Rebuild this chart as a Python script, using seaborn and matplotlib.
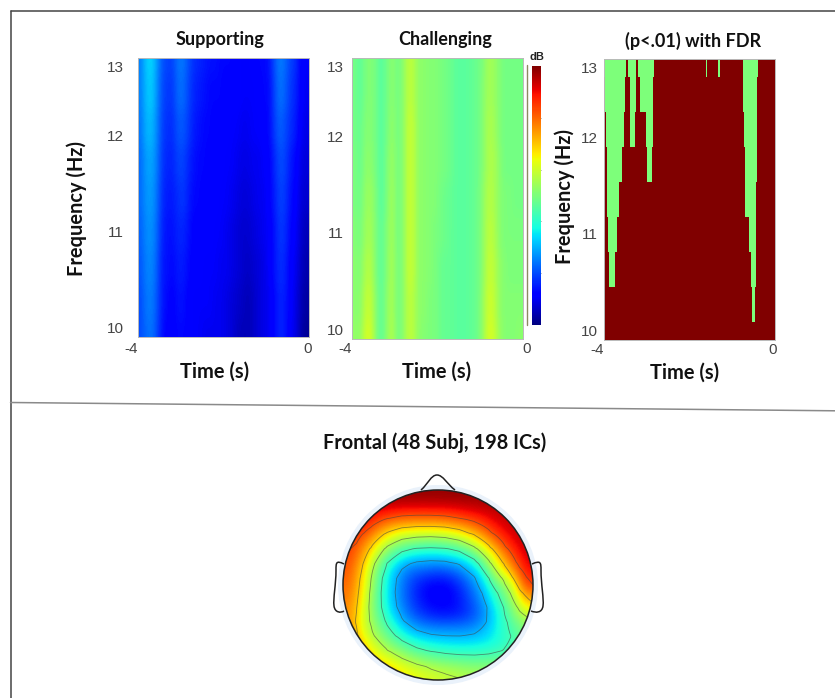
import numpy as np
import pandas as pd
import matplotlib
matplotlib.use("Agg")
import matplotlib.pyplot as plt
import matplotlib.transforms as mtrans
from matplotlib.patches import Circle, PathPatch
from matplotlib.path import Path
from matplotlib.lines import Line2D
import seaborn as sns

W, H = 835, 698
TITLES = ["Supporting", "Challenging", "(p<.01) with FDR"]
BOTTOM_TITLE = "Frontal (48 Subj, 198 ICs)"
FREQ_TICKS = ["13", "12", "11", "10"]
FREQ_TICK_ROWS = [0.57, 4.53, 10.03, 15.53]

# jet-normalised power, rows top (13 Hz) to bottom (10 Hz), columns -4 s to 0 s
SUPPORTING = [
 [.25,.32,.34,.28,.21,.19,.19,.24,.24,.20,.17,.16,.15,.14,.14,.13,.13,.13,.12,.11,.11,.12,.13,.13,.14,.20,.25,.23,.19,.17,.12,.11],
 [.25,.31,.33,.27,.20,.18,.18,.23,.23,.19,.16,.15,.14,.13,.13,.13,.12,.12,.12,.11,.11,.11,.12,.13,.13,.19,.24,.22,.18,.16,.12,.10],
 [.24,.30,.31,.26,.19,.17,.17,.21,.21,.18,.15,.14,.13,.13,.12,.12,.12,.11,.11,.10,.10,.11,.11,.12,.13,.18,.22,.20,.17,.15,.11,.09],
 [.23,.28,.29,.25,.18,.16,.16,.19,.19,.16,.14,.13,.13,.12,.12,.12,.11,.11,.10,.09,.09,.10,.10,.11,.12,.16,.20,.19,.15,.13,.09,.08],
 [.23,.27,.28,.24,.17,.15,.15,.17,.18,.15,.13,.13,.12,.12,.12,.11,.11,.10,.09,.08,.08,.09,.10,.10,.12,.15,.19,.18,.14,.12,.08,.07],
 [.22,.26,.27,.23,.16,.14,.14,.16,.16,.14,.12,.12,.12,.12,.11,.11,.10,.09,.08,.07,.07,.08,.09,.10,.11,.14,.18,.17,.13,.11,.07,.05],
 [.21,.25,.26,.22,.15,.14,.13,.15,.15,.13,.12,.12,.11,.11,.11,.10,.10,.09,.08,.07,.06,.07,.08,.09,.11,.14,.17,.16,.12,.10,.06,.04],
 [.20,.24,.25,.21,.15,.13,.12,.14,.14,.12,.11,.11,.11,.11,.10,.10,.09,.08,.07,.06,.05,.06,.08,.09,.10,.13,.16,.15,.12,.09,.05,.03],
 [.20,.23,.24,.20,.14,.12,.12,.13,.13,.12,.11,.11,.10,.10,.10,.10,.09,.08,.06,.05,.05,.06,.08,.09,.10,.13,.16,.15,.11,.09,.04,.02],
]
CHALLENGING = [
 [.49,.46,.50,.51,.49,.45,.49,.52,.49,.51,.58,.57,.52,.52,.51,.51,.50,.49,.48,.46,.46,.46,.47,.48,.50,.55,.54,.51,.49,.49,.49,.49],
 [.49,.46,.50,.51,.49,.45,.49,.52,.49,.51,.58,.57,.52,.52,.51,.51,.50,.49,.48,.46,.46,.46,.47,.48,.51,.55,.54,.51,.49,.49,.49,.49],
 [.49,.47,.51,.51,.49,.45,.49,.53,.49,.51,.59,.58,.52,.52,.51,.51,.50,.49,.48,.46,.46,.46,.47,.48,.51,.56,.55,.51,.49,.49,.49,.49],
 [.50,.47,.52,.52,.49,.45,.50,.54,.49,.51,.59,.58,.52,.52,.51,.51,.50,.49,.48,.46,.46,.46,.47,.48,.51,.56,.56,.52,.49,.49,.49,.49],
 [.50,.48,.53,.54,.50,.45,.50,.55,.49,.51,.59,.58,.52,.52,.51,.51,.49,.48,.47,.46,.46,.46,.47,.48,.52,.57,.56,.52,.50,.50,.49,.49],
 [.51,.49,.54,.55,.50,.46,.51,.55,.49,.51,.59,.58,.52,.52,.51,.50,.49,.48,.47,.46,.46,.46,.47,.48,.52,.58,.57,.52,.50,.50,.50,.50],
 [.52,.50,.56,.57,.50,.46,.51,.56,.49,.51,.59,.58,.52,.52,.51,.50,.48,.47,.47,.46,.46,.46,.47,.48,.52,.59,.58,.53,.51,.50,.50,.50],
 [.52,.51,.58,.59,.51,.46,.52,.56,.49,.51,.58,.57,.52,.52,.50,.50,.48,.47,.47,.46,.46,.46,.47,.48,.53,.60,.59,.53,.51,.51,.51,.51],
 [.53,.52,.60,.61,.51,.46,.52,.57,.49,.51,.58,.57,.52,.51,.50,.50,.48,.47,.47,.46,.46,.46,.47,.48,.53,.61,.60,.54,.51,.51,.51,.52],
]
# time windows (s) significant at each frequency row
SIG_WINDOWS = [
 [(-4.00,-3.48),(-3.43,-3.25),(-3.20,-2.84),(-1.61,-1.58),(-1.32,-1.28),(-0.75,-0.39)],
 [(-3.97,-3.51),(-3.40,-3.26),(-3.15,-2.86),(-0.75,-0.42)],
 [(-3.96,-3.54),(-3.39,-3.28),(-3.02,-2.86),(-0.73,-0.42)],
 [(-3.93,-3.58),(-2.99,-2.89),(-0.71,-0.42)],
 [(-3.92,-3.65),(-0.69,-0.45)],
 [(-3.91,-3.70),(-0.60,-0.45)],
 [(-3.88,-3.74),(-0.57,-0.44)],
 [(-0.54,-0.46)],
 [],
]
# scalp map, rows front to back, columns left to right
SCALP = [
 [.98,.98,.98,.98,.98,.98,.98,.98,.98,.98,.98,.98,.98],
 [.93,.92,.90,.88,.87,.87,.87,.88,.90,.92,.94,.95,.96],
 [.90,.88,.78,.72,.70,.70,.70,.72,.76,.82,.90,.93,.95],
 [.86,.78,.66,.56,.52,.50,.50,.52,.58,.68,.80,.90,.94],
 [.84,.72,.54,.42,.36,.34,.34,.36,.40,.52,.68,.82,.93],
 [.82,.66,.46,.32,.23,.22,.20,.22,.28,.38,.60,.72,.90],
 [.80,.64,.44,.30,.20,.13,.11,.13,.21,.31,.47,.57,.85],
 [.78,.62,.43,.30,.20,.13,.11,.12,.18,.27,.40,.52,.72],
 [.76,.60,.45,.33,.23,.17,.14,.14,.17,.24,.36,.47,.60],
 [.76,.60,.50,.40,.31,.27,.26,.26,.26,.29,.37,.44,.50],
 [.78,.66,.56,.48,.42,.38,.36,.35,.35,.36,.38,.42,.48],
 [.80,.72,.65,.60,.54,.50,.47,.46,.45,.45,.46,.48,.50],
 [.82,.78,.73,.69,.65,.62,.60,.58,.56,.55,.55,.55,.55],
]
SCALP_LEVELS = [.30, .43, .56, .69, .82]

sns.set_theme(style="white")
plt.rcParams["font.family"] = ["Liberation Sans", "DejaVu Sans"]
HEAD_FONT = ["Lato", "DejaVu Sans"]
TICK_C = "#444444"
ROW_REPEAT = [1, 2, 2, 2, 2, 2, 2, 2, 1]

fig = plt.figure(figsize=(W / 100, H / 100), dpi=100, facecolor="white")


def box(x0, y0, x1, y1):
    return fig.add_axes([x0 / W, 1 - y1 / H, (x1 - x0) / W, (y1 - y0) / H])


def finish(ax, title, title_x, label_x, label_y, ypad, xpad, zero_shift):
    ax.set_xticks([0, ax.get_xlim()[1]], ["-4", "0"], color=TICK_C, fontsize=11, rotation=0)
    ax.set_yticks(FREQ_TICK_ROWS, FREQ_TICKS, color=TICK_C, fontsize=11, rotation=0)
    ax.tick_params(axis="y", length=0, pad=ypad)
    ax.tick_params(axis="x", length=0, pad=xpad)
    low, high = ax.xaxis.get_ticklabels()
    low.set_ha("right")
    low.set_x(0)
    off = mtrans.ScaledTranslation(zero_shift / 100, 0, fig.dpi_scale_trans)
    high.set_transform(high.get_transform() + off)
    ax.text(title_x, 1.066, title, transform=ax.transAxes, ha="center", va="center",
            fontsize=13, fontweight="bold", family=HEAD_FONT, color="#111111")
    ax.text(label_x, label_y, "Time (s)", transform=ax.transAxes, ha="center", va="center",
            fontsize=14.4, fontweight="bold", family=HEAD_FONT, color="#111111")
    for s in ax.spines.values():
        s.set_visible(True)
        s.set_color("#b9b9b9")
        s.set_linewidth(0.7)


def smooth_panel(ax, values):
    # resample only for display: soft look of the published bitmap
    xl, yl = ax.get_xlim(), ax.get_ylim()
    ax.imshow(values, cmap="jet", vmin=0, vmax=1, aspect="auto",
              interpolation="bicubic", extent=[xl[0], xl[1], yl[0], yl[1]], zorder=2)
    ax.set_xlim(xl)
    ax.set_ylim(yl)


# Panel 1
sup = np.repeat(np.array(SUPPORTING), ROW_REPEAT, axis=0)
ax1 = box(138, 58, 309, 337)
sns.heatmap(pd.DataFrame(sup), ax=ax1, cmap="jet", vmin=0, vmax=1, cbar=False)
smooth_panel(ax1, sup)
finish(ax1, TITLES[0], 0.48, 0.45, -0.125, 10.5, 3.5, -1)

# Panel 2 with colour bar
cha = np.repeat(np.array(CHALLENGING), ROW_REPEAT, axis=0)
ax2 = box(352, 58, 523, 339)
cax = box(532, 66, 541, 325)
sns.heatmap(pd.DataFrame(cha), ax=ax2, cmap="jet", vmin=0, vmax=1, cbar=True, cbar_ax=cax)
smooth_panel(ax2, cha)
finish(ax2, TITLES[1], 0.544, 0.497, -0.117, 6, 2.5, 4)
cax.set_yticks([.2, .4, .6, .8], [])
cax.tick_params(axis="y", direction="in", length=2, width=0.5, color="#555555", right=True)
for s in cax.spines.values():
    s.set_visible(False)
fig.text(537 / W, 1 - 57 / H, "dB", ha="center", va="center", fontsize=8, fontweight="bold", color="#222222")
fig.add_artist(Line2D([527 / W, 527 / W], [1 - 65 / H, 1 - 325 / H], color="#8e8a62", lw=1.0))

# Panel 3
N_T = 514
t_edges = np.linspace(-4, 0, N_T + 1)
t_mid = (t_edges[:-1] + t_edges[1:]) / 2
sig = np.ones((len(SIG_WINDOWS), N_T))
for r, wins in enumerate(SIG_WINDOWS):
    for a, b in wins:
        sig[r, (t_mid >= a) & (t_mid <= b)] = 0.5
sig = np.repeat(sig, ROW_REPEAT, axis=0)
ax3 = box(604, 59, 775, 340)
sns.heatmap(pd.DataFrame(sig), ax=ax3, cmap="jet", vmin=0, vmax=1, cbar=False)
finish(ax3, TITLES[2], 0.52, 0.474, -0.117, 4.5, 2.5, -2)

for x, y in ((77, 208), (565, 197)):
    fig.text(x / W, 1 - y / H, "Frequency (Hz)", rotation=90, ha="center", va="center",
             fontsize=14.4, fontweight="bold", family=HEAD_FONT, color="#111111")

# Scalp map
R = 95
cx, cy = 438, 585
top = fig.add_axes([0, 0, 1, 1], facecolor="none")
top.set_xlim(0, W)
top.set_ylim(H, 0)
top.axis("off")
top.add_patch(Circle((cx, cy), R + 5, fc="#eaf2fb", ec="none", zorder=1))
sc = np.array(SCALP)
ext = [cx - R, cx + R, cy + R, cy - R]
head_clip = Circle((cx, cy), R, transform=top.transData)
im = top.imshow(sc, cmap="jet", vmin=0, vmax=1, extent=ext, interpolation="bicubic", aspect="auto", zorder=2)
im.set_clip_path(head_clip)
# display-only refinement of the contour grid
k = 12
fine = np.kron(sc, np.ones((k, k)))
ker = np.ones(k * 2 + 1) / (k * 2 + 1)
pad = k + 1
pf = np.pad(fine, pad, mode="edge")
pf = np.apply_along_axis(lambda v: np.convolve(v, ker, mode="same"), 0, pf)
pf = np.apply_along_axis(lambda v: np.convolve(v, ker, mode="same"), 1, pf)
fine = pf[pad:-pad, pad:-pad]
xs = np.linspace(cx - R, cx + R, fine.shape[1])
ys = np.linspace(cy - R, cy + R, fine.shape[0])
cs = top.contour(xs, ys, fine, levels=SCALP_LEVELS, colors="#444444", linewidths=0.6, alpha=0.6, zorder=3)
cs.set_clip_path(head_clip)
top.set_xlim(0, W)
top.set_ylim(H, 0)
top.add_patch(Circle((cx, cy), R, fc="none", ec="#222222", lw=1.1, zorder=4))


def outline(points, codes):
    top.add_patch(PathPatch(Path(points, codes), fc="none", ec="#222222", lw=1.1, zorder=4))


M, C = Path.MOVETO, Path.CURVE4
outline([(421, 490), (428, 484), (431, 475), (437, 475), (443, 475), (447, 484), (455, 490)],
        [M, C, C, C, C, C, C])
outline([(344, 564), (336, 560), (336, 563), (336, 570), (336, 585), (333, 598), (334, 606), (335, 613), (341, 613), (344, 611)],
        [M, C, C, C, C, C, C, C, C, C])
outline([(532, 564), (541, 560), (541, 563), (541, 570), (541, 585), (544, 598), (543, 606), (542, 613), (536, 613), (531, 611)],
        [M, C, C, C, C, C, C, C, C, C])
top.text(435, 443, BOTTOM_TITLE, ha="center", va="center", fontsize=14.3,
         fontweight="bold", family=HEAD_FONT, color="#111111", zorder=5)

# Frame and divider
for (x0, y0, x1, y1), c, lw in [((10.5, 698, 10.5, 10.5), "#444444", 1.1),
                                ((10.5, 10.5, 835, 10.5), "#444444", 1.1),
                                ((10.5, 402.5, 835, 410.8), "#8a8a8a", 1.1)]:
    top.add_line(Line2D([x0, x1], [y0, y1], color=c, lw=lw, zorder=5))

fig.savefig("out.png", dpi=100)
